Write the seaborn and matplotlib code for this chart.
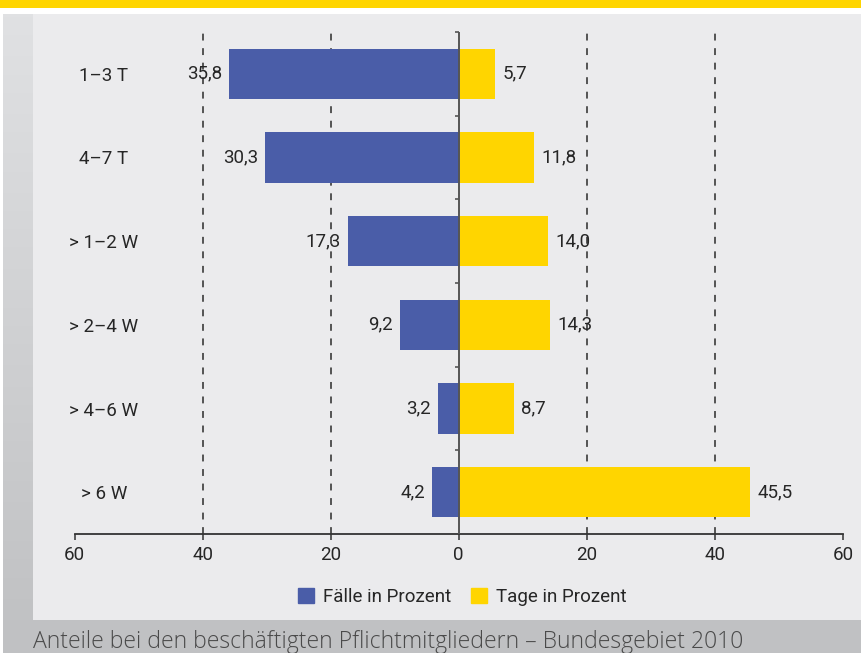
import numpy as np
import pandas as pd
import matplotlib
matplotlib.use("Agg")
import matplotlib.pyplot as plt
import seaborn as sns
from matplotlib.patches import Rectangle, Patch
from matplotlib.colors import LinearSegmentedColormap

# ---------------- data ----------------
categories = ["1–3 T", "4–7 T", "> 1–2 W", "> 2–4 W", "> 4–6 W", "> 6 W"]
faelle = [35.8, 30.3, 17.3, 9.2, 3.2, 4.2]
tage = [5.7, 11.8, 14.0, 14.3, 8.7, 45.5]
xticks = [-60, -40, -20, 0, 20, 40, 60]
grid_vals = [-40, -20, 20, 40]
series_names = ["Fälle in Prozent", "Tage in Prozent"]
caption = "Anteile bei den beschäftigten Pflichtmitgliedern – Bundesgebiet 2010"

BLUE = "#4a5da8"
YELLOW = "#ffd500"
PANEL = "#ebebed"
TXT = "#262626"
FS = 13.5

sns.set_theme(style="white")
plt.rcParams['font.family'] = ['Roboto', 'DejaVu Sans']

W, H = 861, 653
fig = plt.figure(figsize=(W / 100, H / 100), dpi=100)
fig.patch.set_facecolor("white")

# ---------------- background decoration (pixel coords) ----------------
bg = fig.add_axes([0, 0, 1, 1], zorder=-10)
bg.set_xlim(0, W)
bg.set_ylim(H, 0)
bg.axis("off")
bg.add_patch(Rectangle((0, 0), W, 8, color=YELLOW, lw=0))
bg.add_patch(Rectangle((33, 14), W - 33, 606, color=PANEL, lw=0))
bg.add_patch(Rectangle((3, 620), W - 3, 33, color="#c0c1c3", lw=0))
cmap = LinearSegmentedColormap.from_list("strip", ["#e0e1e3", "#c1c2c4"])
bg.imshow(np.linspace(0, 1, 200).reshape(-1, 1), cmap=cmap,
          extent=[3, 33, 620, 14], aspect="auto", zorder=1)

# ---------------- main axes ----------------
ax = fig.add_axes([74.5 / W, 1 - 534 / H, (843 - 74.5) / W, (534 - 32) / H])
ax.patch.set_alpha(0)

df = pd.DataFrame({
    "cat": categories,
    "faelle_neg": [-v for v in faelle],
    "tage": tage,
})
sns.barplot(data=df, y="cat", x="faelle_neg", color=BLUE, width=0.6,
            saturation=1, orient="h", ax=ax, zorder=2, linewidth=0)
sns.barplot(data=df, y="cat", x="tage", color=YELLOW, width=0.6,
            saturation=1, orient="h", ax=ax, zorder=2, linewidth=0)

fmt = lambda v: f"{v:.1f}".replace(".", ",")
ax.bar_label(ax.containers[0], labels=[fmt(v) for v in faelle], padding=5,
             fontsize=FS, color=TXT)
ax.bar_label(ax.containers[1], labels=[fmt(v) for v in tage], padding=5,
             fontsize=FS, color=TXT)

ax.set_xlim(xticks[0], xticks[-1])
ax.set_ylim(len(categories) - 0.5, -0.5)

for v in grid_vals:
    ax.axvline(v, color="#2a2a2a", lw=1.1, ls=(0, (4.5, 5)), zorder=1)
ax.axvline(0, color="#555555", lw=1.4, zorder=3)
for b in np.arange(len(categories)) - 0.5:
    ax.plot([-0.55, 0], [b, b], color="#555555", lw=1.2, zorder=3,
            solid_capstyle="butt", clip_on=False)

for s in ["top", "right", "left"]:
    ax.spines[s].set_visible(False)
ax.spines["bottom"].set_color("#333333")
ax.spines["bottom"].set_linewidth(1.3)

ax.set_xticks(xticks)
ax.set_xticklabels([str(abs(t)) for t in xticks])
ax.tick_params(axis="x", direction="out", length=4, width=1.1, color="#333333",
               pad=5, labelsize=FS, labelcolor=TXT, bottom=True)
ax.tick_params(axis="y", length=0, pad=-21.2, labelsize=FS, labelcolor=TXT)
for lbl in ax.get_yticklabels():
    lbl.set_ha("center")
ax.set_xlabel("")
ax.set_ylabel("")
ax.grid(False)

# ---------------- legend ----------------
handles = [Patch(color=BLUE, label=series_names[0]),
           Patch(color=YELLOW, label=series_names[1])]
leg = fig.legend(handles=handles, loc="center", bbox_to_anchor=(0.537, 0.086),
                 ncol=2, frameon=False, fontsize=FS, handlelength=0.85,
                 handleheight=0.85, handletextpad=0.45, columnspacing=1.1)
for t in leg.get_texts():
    t.set_color(TXT)

# ---------------- caption ----------------
fig.text(33 / W, 1 - 647.5 / H, caption, fontsize=16.6, color="#4a4a4a",
         family=["Open Sans", "DejaVu Sans"], fontweight="light",
         ha="left", va="baseline")

fig.savefig("out.png", dpi=100)
